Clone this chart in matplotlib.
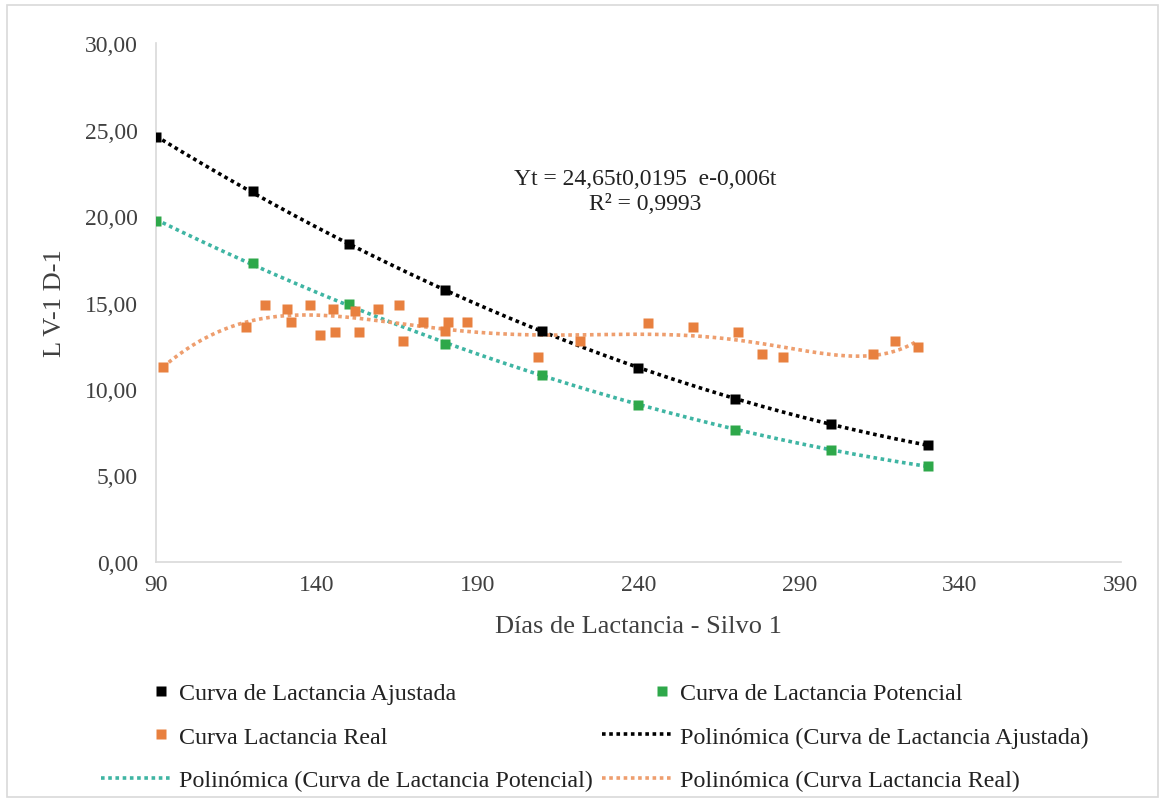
import numpy as np
import matplotlib
matplotlib.use("Agg")
import matplotlib.pyplot as plt
from matplotlib.patches import Rectangle
from matplotlib.ticker import FuncFormatter
from matplotlib.legend_handler import HandlerLine2DCompound

plt.rcParams["font.family"] = ["Liberation Serif", "DejaVu Serif"]

# data
dias = [90, 120, 150, 180, 210, 240, 270, 300, 330]
ajustada = [24.55, 21.45, 18.40, 15.70, 13.35, 11.20, 9.40, 8.00, 6.75]
potencial = [19.70, 17.30, 14.90, 12.60, 10.80, 9.10, 7.60, 6.50, 5.55]

dias_real = [92.2, 118, 123.9, 130.7, 132, 137.9, 141, 145, 145.6, 151.9, 153, 159,
             165.5, 166.8, 173, 180.8, 180, 186.7, 208.7, 221.8, 243, 257, 271,
             278.4, 285, 313, 319.7, 326.9]
real = [11.25, 13.6, 14.85, 14.6, 13.9, 14.85, 13.1, 14.6, 13.3, 14.5, 13.3, 14.6,
        14.85, 12.8, 13.9, 13.9, 13.35, 13.9, 11.85, 12.8, 13.8, 13.6, 13.3,
        12.0, 11.85, 12.0, 12.8, 12.4]

x_ticks = [90, 140, 190, 240, 290, 340, 390]
y_ticks = [0, 5, 10, 15, 20, 25, 30]

c_black = "#000000"
c_green = "#2EA84A"
c_orange = "#E8803F"
c_green_trend = "#3FB5A3"
c_orange_trend = "#EE9E6E"
grey_txt = "#404040"


def trend(x, y, deg):
    # polynomial trend line like Excel, fitted on centred x
    x = np.asarray(x, float)
    m = x.mean()
    coef = np.polyfit(x - m, y, deg)
    xs = np.linspace(x.min(), x.max(), 200)
    return xs, np.polyval(coef, xs - m)


class MarkerRight(HandlerLine2DCompound):
    # Excel puts the legend marker near the right end of the handle
    def get_xdata(self, legend, xdescent, ydescent, width, height, fontsize):
        xdata, _ = super().get_xdata(legend, xdescent, ydescent, width, height, fontsize)
        return xdata, np.array([-xdescent + 0.83 * width])


fig = plt.figure(figsize=(11.65, 8.03), dpi=100)
ax = fig.add_axes([0.134, 0.299, 0.828, 0.646])

h_aj, = ax.plot(dias, ajustada, "s", color=c_black, ms=7.5, mec="none", zorder=4,
                label="Curva de Lactancia Ajustada")
h_pot, = ax.plot(dias, potencial, "s", color=c_green, ms=7.5, mec="none", zorder=4,
                 label="Curva de Lactancia Potencial")
h_real, = ax.plot(dias_real, real, "s", color=c_orange, ms=7.5, mec="none", zorder=4,
                  label="Curva Lactancia Real")

dots = (0, (1, 1))
xs, ys = trend(dias, ajustada, 2)
t_aj, = ax.plot(xs, ys, color=c_black, lw=2.6, ls=dots, zorder=3,
                label="Polinómica (Curva de Lactancia Ajustada)")
xs, ys = trend(dias, potencial, 2)
t_pot, = ax.plot(xs, ys, color=c_green_trend, lw=2.6, ls=dots, zorder=3,
                 label="Polinómica (Curva de Lactancia Potencial)")
xs, ys = trend(dias_real, real, 6)
t_real, = ax.plot(xs, ys, color=c_orange_trend, lw=2.6, ls=dots, zorder=3,
                  label="Polinómica (Curva Lactancia Real)")

ax.set_xlim(90, 390)
ax.set_ylim(0, 30)
ax.set_xticks(x_ticks)
ax.set_yticks(y_ticks)
ax.yaxis.set_major_formatter(FuncFormatter(lambda v, p: f"{v:.2f}".replace(".", ",")))
ax.tick_params(length=0, labelsize=17, labelcolor=grey_txt)
ax.tick_params(axis="y", pad=13)
ax.tick_params(axis="x", pad=9)
for s in ["top", "right"]:
    ax.spines[s].set_visible(False)
for s in ["left", "bottom"]:
    ax.spines[s].set_color("#d9d9d9")
    ax.spines[s].set_linewidth(1.2)

ax.set_xlabel("Días de Lactancia - Silvo 1", fontsize=19, color=grey_txt, labelpad=14)
ax.set_ylabel("L V-1 D-1", fontsize=19, color=grey_txt, labelpad=14)

ax.text(242, 21.45, "Yt = 24,65t0,0195  e-0,006t\nR² = 0,9993", fontsize=17,
        ha="center", va="center", color="#222222", linespacing=1.25)

handles = [h_aj, h_real, t_pot, h_pot, t_aj, t_real]
hmap = {h_aj: MarkerRight(), h_real: MarkerRight(), h_pot: MarkerRight()}
fig.legend(handles=handles, labels=[h.get_label() for h in handles],
           handler_map=hmap,
           loc="upper left", bbox_to_anchor=(0.068, 0.176), ncol=2, frameon=False,
           fontsize=17.3, handlelength=3.0, handletextpad=0.25, columnspacing=0.38,
           labelspacing=0.9, labelcolor="#222222")

fig.patches.append(Rectangle((0.006, 0.006), 0.988, 0.986, transform=fig.transFigure,
                             fill=False, edgecolor="#d9d9d9", lw=1.2))

fig.savefig("out.png", dpi=100)
